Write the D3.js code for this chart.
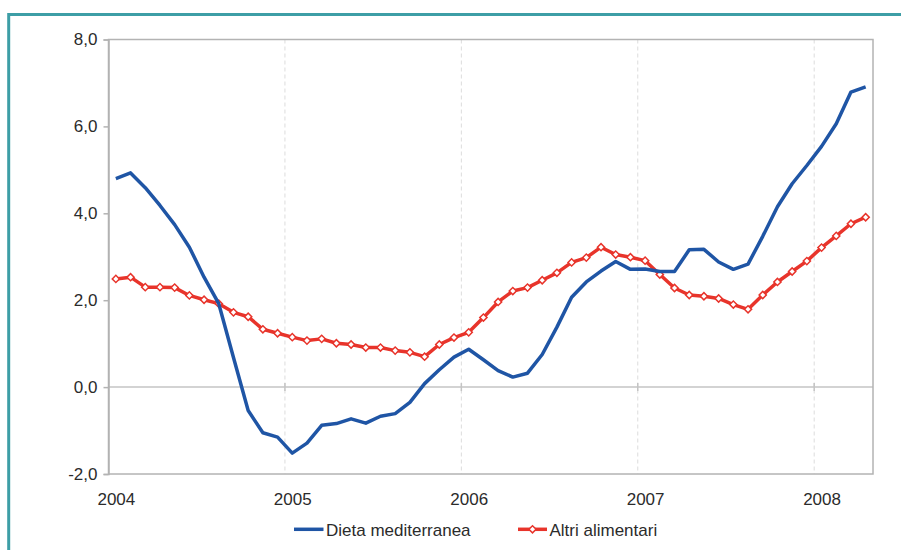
<!DOCTYPE html>
<html>
<head>
<meta charset="utf-8">
<script src="https://cdn.jsdelivr.net/npm/d3@7"></script>
<style>
  html, body { margin: 0; padding: 0; background: #fff; }
  svg { display: block; font-family: "Liberation Sans", Arial, sans-serif; }
</style>
</head>
<body>
<svg id="chart" width="901" height="550"></svg>
<script>
// Monthly categories, January 2004 to April 2008
const months = d3.timeMonth.range(new Date(2004, 0, 1), new Date(2008, 4, 1));

// Year-on-year change (%), "Dieta mediterranea" basket
const dietaMediterranea = [
  4.80, 4.93, 4.59, 4.18, 3.74, 3.22, 2.53, 1.92, 0.68, -0.54, -1.05, -1.15,
  -1.52, -1.29, -0.88, -0.84, -0.73, -0.83, -0.67, -0.61, -0.35, 0.08, 0.40, 0.69,
  0.87, 0.63, 0.38, 0.23, 0.32, 0.75, 1.38, 2.07, 2.42, 2.67, 2.89, 2.71,
  2.72, 2.66, 2.66, 3.16, 3.17, 2.88, 2.71, 2.83, 3.47, 4.15, 4.68, 5.10,
  5.54, 6.06, 6.79, 6.91
];

// Year-on-year change (%), other food products
const altriAlimentari = [
  2.49, 2.53, 2.30, 2.30, 2.29, 2.11, 2.01, 1.92, 1.72, 1.62, 1.33, 1.24,
  1.15, 1.07, 1.11, 1.01, 0.98, 0.91, 0.91, 0.84, 0.80, 0.70, 0.98, 1.14,
  1.26, 1.60, 1.96, 2.21, 2.29, 2.46, 2.63, 2.87, 2.98, 3.22, 3.05, 2.99,
  2.91, 2.59, 2.28, 2.12, 2.09, 2.04, 1.90, 1.79, 2.12, 2.42, 2.66, 2.90,
  3.21, 3.48, 3.76, 3.91
];

const yTicks = [-2, 0, 2, 4, 6, 8];
const yearLabels = ["2004", "2005", "2006", "2007", "2008"];
const seriesNames = ["Dieta mediterranea", "Altri alimentari"];

const blue = "#1f55a5", red = "#e8342b", textColor = "#2b2b2b";
const plotLeft = 108.5, plotRight = 873, plotTop = 39.5, plotBottom = 474;

const svg = d3.select("#chart");

// Outer teal frame (left and top edges)
svg.append("path")
  .attr("d", `M8.7,552V14.5H903`)
  .attr("fill", "none")
  .attr("stroke", "#3d9ea6")
  .attr("stroke-width", 3);

const idx = d3.range(months.length);
const x = d3.scaleBand().domain(idx).range([plotLeft, plotRight]).padding(0);
const cx = i => x(i) + x.bandwidth() / 2;
const y = d3.scaleLinear().domain([-2, 8]).range([plotBottom, plotTop]);

// Italian number style: decimal comma, plain hyphen for negatives
const comma = d3.formatLocale({
  decimal: ",", thousands: ".", grouping: [3], currency: ["", "€"], minus: "-"
}).format(".1f");

// Start-of-year positions (January of each year)
const janIdx = idx.filter(i => months[i].getMonth() === 0);

// Dashed vertical gridlines at year boundaries
svg.append("g").selectAll("line")
  .data(janIdx.filter(i => i > 0))
  .join("line")
  .attr("x1", i => x(i)).attr("x2", i => x(i))
  .attr("y1", plotTop).attr("y2", plotBottom)
  .attr("stroke", "#dcdcdc")
  .attr("stroke-width", 1)
  .attr("stroke-dasharray", "4,3");

// Zero line with year ticks
svg.append("line")
  .attr("x1", plotLeft).attr("x2", plotRight)
  .attr("y1", y(0)).attr("y2", y(0))
  .attr("stroke", "#c4c4c4").attr("stroke-width", 1.5);
svg.append("g").selectAll("line")
  .data(janIdx.filter(i => i > 0))
  .join("line")
  .attr("x1", i => x(i)).attr("x2", i => x(i))
  .attr("y1", y(0) - 4).attr("y2", y(0) + 4)
  .attr("stroke", "#c4c4c4").attr("stroke-width", 1.5);

// Plot-area border
svg.append("rect")
  .attr("x", plotLeft).attr("y", plotTop)
  .attr("width", plotRight - plotLeft).attr("height", plotBottom - plotTop)
  .attr("fill", "none")
  .attr("stroke", "#b3b3b3").attr("stroke-width", 1.5);

// Y axis
const yAxis = svg.append("g")
  .attr("transform", `translate(${plotLeft},0)`)
  .call(d3.axisLeft(y).tickValues(yTicks).tickSize(5).tickPadding(6).tickFormat(comma));
yAxis.select(".domain").attr("stroke", "#b3b3b3").attr("stroke-width", 1.5);
yAxis.selectAll(".tick line").attr("stroke", "#b3b3b3").attr("stroke-width", 1.5);
yAxis.selectAll("text").attr("fill", textColor).style("font-size", "17px");

// X axis labels, centred on each January
const xAxis = svg.append("g")
  .attr("transform", `translate(0,${plotBottom})`)
  .call(d3.axisBottom(d3.scaleLinear().domain([0, 1]).range([0, 1]))
    .tickValues(janIdx.map(cx))
    .tickSize(0).tickPadding(19)
    .tickFormat((d, k) => yearLabels[k]));
xAxis.select(".domain").remove();
xAxis.selectAll("text").attr("fill", textColor).style("font-size", "17px");

// Series lines
const line = data => d3.line().x((d, i) => cx(i)).y(d => y(d))(data);

svg.append("path")
  .attr("d", line(altriAlimentari))
  .attr("fill", "none").attr("stroke", red)
  .attr("stroke-width", 3.5).attr("stroke-linejoin", "round");

const diamond = d3.symbol(d3.symbolSquare, 26);
svg.append("g").selectAll("path")
  .data(altriAlimentari)
  .join("path")
  .attr("d", diamond)
  .attr("transform", (d, i) => `translate(${cx(i)},${y(d)}) rotate(45)`)
  .attr("fill", "#fff").attr("stroke", red).attr("stroke-width", 1.5);

svg.append("path")
  .attr("d", line(dietaMediterranea))
  .attr("fill", "none").attr("stroke", blue)
  .attr("stroke-width", 3.5).attr("stroke-linejoin", "round");

// Legend
const legend = svg.append("g").style("font-size", "17px").attr("fill", textColor);
legend.append("line")
  .attr("x1", 294).attr("x2", 323.5).attr("y1", 529.3).attr("y2", 529.3)
  .attr("stroke", blue).attr("stroke-width", 3.5);
legend.append("text").attr("x", 326).attr("y", 535.5).text(seriesNames[0]);
legend.append("line")
  .attr("x1", 518).attr("x2", 547).attr("y1", 529.3).attr("y2", 529.3)
  .attr("stroke", red).attr("stroke-width", 3.5);
legend.append("path")
  .attr("d", diamond)
  .attr("transform", "translate(532.5,529.3) rotate(45)")
  .attr("fill", "#fff").attr("stroke", red).attr("stroke-width", 1.5);
legend.append("text").attr("x", 549.5).attr("y", 535.5).text(seriesNames[1]);
</script>
</body>
</html>
